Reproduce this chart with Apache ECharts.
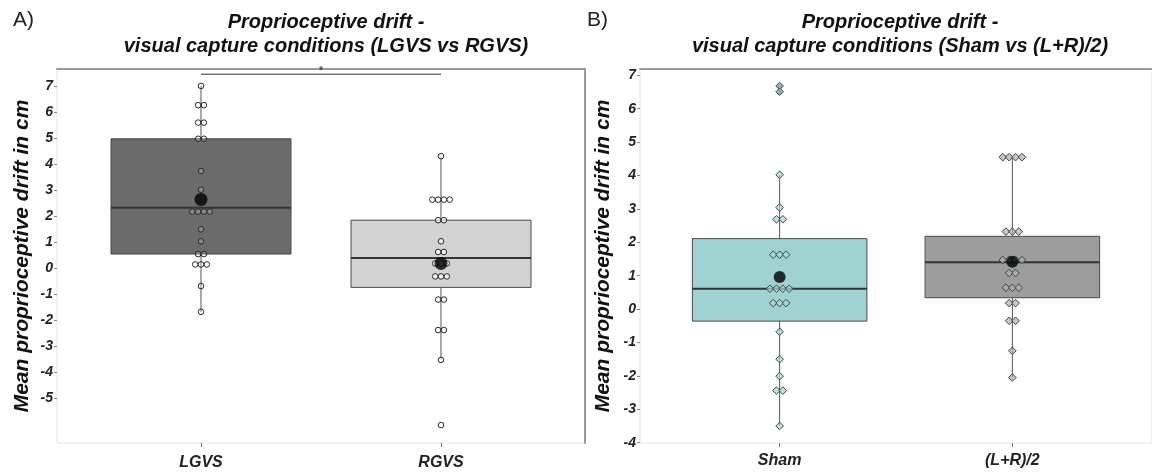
<!DOCTYPE html>
<html>
<head>
<meta charset="utf-8">
<script src="https://cdn.jsdelivr.net/npm/echarts@6/dist/echarts.min.js"></script>
<style>
html, body { margin: 0; padding: 0; background: #fff; }
#chart { width: 1152px; height: 473px; }
</style>
</head>
<body>
<div id="chart"></div>
<script>
// panel A: LGVS vs RGVS
const catsA = ['LGVS', 'RGVS'];
const dotsLGVS = [7.0, 6.26, 6.26, 5.59, 5.59, 4.97, 4.97, 3.73, 3.01, 2.17, 2.17, 2.17, 2.17,
  1.49, 1.03, 0.54, 0.54, 0.14, 0.14, 0.14, -0.69, -1.68];
const dotsRGVS = [4.3, 2.63, 2.63, 2.63, 2.63, 1.84, 1.84, 1.03, 0.62, 0.62, 0.18, 0.18, 0.18,
  -0.32, -0.32, -0.32, -1.21, -1.21, -2.38, -2.38, -3.53, -6.03];
// [min, q1, median, q3, max]
const boxLGVS = [-1.68, 0.54, 2.32, 4.97, 7.0];
const boxRGVS = [-3.53, -0.74, 0.39, 1.84, 4.3];
const meansA = [2.64, 0.18];
const signifY = 7.45;

// panel B: Sham vs (L+R)/2
const catsB = ['Sham', '(L+R)/2'];
const dotsSham = [6.68, 6.51, 4.02, 3.04, 2.69, 2.69, 1.63, 1.63, 1.63, 0.61, 0.61, 0.61, 0.61,
  0.18, 0.18, 0.18, -0.68, -1.5, -2.01, -2.44, -2.44, -3.5];
const dotsLR = [4.55, 4.55, 4.55, 4.55, 2.32, 2.32, 2.32, 1.47, 1.47, 1.47, 1.47, 1.08, 1.08,
  0.64, 0.64, 0.64, 0.18, 0.18, -0.35, -0.35, -1.25, -2.05];
const boxSham = [-3.5, -0.36, 0.61, 2.11, 4.02];
const boxLR = [-2.05, 0.34, 1.40, 2.18, 4.55];
const meansB = [0.96, 1.42];
const outliersSham = [6.68, 6.51];

const ticksA = [-5, -4, -3, -2, -1, 0, 1, 2, 3, 4, 5, 6, 7];
const ticksB = [-4, -3, -2, -1, 0, 1, 2, 3, 4, 5, 6, 7];

const FONT = '"Liberation Sans", Arial, sans-serif';

// spread equal values side by side like a dotplot
function stackDots(cat, vals) {
  const counts = {};
  vals.forEach(v => { counts[v] = (counts[v] || 0) + 1; });
  const seen = {};
  return vals.map(v => {
    seen[v] = seen[v] === undefined ? 0 : seen[v] + 1;
    return [cat, v, seen[v] - (counts[v] - 1) / 2];
  });
}

function boxRenderer(fills) {
  return function (params, api) {
    const c = api.value(0);
    const half = api.size([0.75, 0])[0] / 2;
    const lo = api.coord([c, api.value(1)]);
    const q1 = api.coord([c, api.value(2)]);
    const md = api.coord([c, api.value(3)]);
    const q3 = api.coord([c, api.value(4)]);
    const hi = api.coord([c, api.value(5)]);
    const wl = { stroke: '#555', lineWidth: 1 };
    return {
      type: 'group',
      children: [
        { type: 'line', shape: { x1: lo[0], y1: lo[1], x2: q1[0], y2: q1[1] }, style: wl },
        { type: 'line', shape: { x1: q3[0], y1: q3[1], x2: hi[0], y2: hi[1] }, style: wl },
        { type: 'rect', shape: { x: q3[0] - half, y: q3[1], width: half * 2, height: q1[1] - q3[1] },
          style: { fill: fills[c], stroke: '#4a4a4a', lineWidth: 1 } },
        { type: 'line', shape: { x1: md[0] - half, y1: md[1], x2: md[0] + half, y2: md[1] },
          style: { stroke: '#333', lineWidth: 2 } }
      ]
    };
  };
}

function dotRenderer(kind, r, step, fills, stroke) {
  return function (params, api) {
    const c = api.value(0);
    const p = api.coord([c, api.value(1)]);
    const x = p[0] + api.value(2) * step;
    const y = p[1];
    const style = { fill: fills[c], stroke: stroke, lineWidth: 1 };
    if (kind === 'circle') {
      return { type: 'circle', shape: { cx: x, cy: y, r: r }, style: style };
    }
    return { type: 'polygon', shape: { points: [[x, y - r], [x + r, y], [x, y + r], [x - r, y]] }, style: style };
  };
}

function boxData(boxes) {
  return boxes.map((b, i) => [i].concat(b));
}

const labelStyle = { fontFamily: FONT, fontWeight: 'bold', fontStyle: 'italic', color: '#222' };

function xAxes(grid, cats, margin) {
  return [
    {
      gridIndex: grid, type: 'value', min: -0.6, max: 1.6,
      axisLine: { show: false, onZero: false },
      splitLine: { show: false },
      axisTick: { customValues: [0, 1], length: 4, lineStyle: { color: '#777' } },
      axisLabel: Object.assign({ customValues: [0, 1], fontSize: 16, margin: margin,
        formatter: v => cats[Math.round(v)] }, labelStyle)
    },
    {
      gridIndex: grid, type: 'value', position: 'top', min: -0.6, max: 1.6,
      axisLine: { show: true, onZero: false, lineStyle: { color: '#999', width: 2 } },
      axisTick: { show: false }, axisLabel: { show: false }, splitLine: { show: false }
    }
  ];
}

function yAxes(grid, min, max, ticks, rightLine, gap) {
  return [
    {
      gridIndex: grid, type: 'value', min: min, max: max,
      name: 'Mean proprioceptive drift in cm', nameLocation: 'middle', nameGap: gap,
      nameTextStyle: Object.assign({ fontSize: 21 }, labelStyle, { color: '#111' }),
      axisLine: { show: false, onZero: false },
      splitLine: { show: false },
      axisTick: { customValues: ticks, length: 3, lineStyle: { color: '#888' } },
      axisLabel: Object.assign({ customValues: ticks, fontSize: 14, margin: 4 }, labelStyle)
    },
    {
      gridIndex: grid, type: 'value', position: 'right', min: min, max: max,
      axisLine: { show: rightLine, onZero: false, lineStyle: { color: '#999', width: 2 } },
      axisTick: { show: false }, axisLabel: { show: false }, splitLine: { show: false }
    }
  ];
}

const chart = echarts.init(document.getElementById('chart'));

const titleStyle = Object.assign({ fontSize: 20, lineHeight: 24 }, labelStyle, { color: '#111' });

const option = {
  backgroundColor: '#fff',
  animation: false,
  title: [
    { text: 'A)', left: 8, top: 5, textStyle: { fontFamily: FONT, fontSize: 21, fontWeight: 'normal', color: '#222' } },
    { text: 'B)', left: 582, top: 5, textStyle: { fontFamily: FONT, fontSize: 21, fontWeight: 'normal', color: '#222' } },
    { text: 'Proprioceptive drift -\nvisual capture conditions (LGVS vs RGVS)', left: 321, top: 5,
      textAlign: 'center', textStyle: titleStyle },
    { text: 'Proprioceptive drift -\nvisual capture conditions (Sham vs (L+R)/2)', left: 895, top: 5,
      textAlign: 'center', textStyle: titleStyle }
  ],
  grid: [
    { left: 57, width: 528, top: 69, height: 374, show: true, borderColor: '#e6e6e6', borderWidth: 1 },
    { left: 640, width: 521, top: 69, height: 374, show: true, borderColor: '#e6e6e6', borderWidth: 1 }
  ],
  xAxis: xAxes(0, catsA, 12).concat(xAxes(1, catsB, 10)),
  yAxis: yAxes(0, -6.72, 7.65, ticksA, true, 24).concat(yAxes(1, -4.01, 7.19, ticksB, false, 26)),
  series: [
    {
      type: 'custom', xAxisIndex: 0, yAxisIndex: 0, z: 2,
      renderItem: boxRenderer(['#6b6b6b', '#d3d3d3']),
      data: boxData([boxLGVS, boxRGVS])
    },
    {
      type: 'custom', xAxisIndex: 2, yAxisIndex: 2, z: 2,
      renderItem: boxRenderer(['#a0d2d2', '#9d9d9d']),
      data: boxData([boxSham, boxLR])
    },
    {
      type: 'scatter', xAxisIndex: 2, yAxisIndex: 2, z: 3,
      symbol: 'circle', symbolSize: 5, itemStyle: { color: '#222' },
      data: outliersSham.map(v => [0, v])
    },
    {
      type: 'custom', xAxisIndex: 0, yAxisIndex: 0, z: 4,
      renderItem: dotRenderer('circle', 2.8, 5.8, ['rgba(255,255,255,0.2)', 'rgba(255,255,255,0.6)'], '#2a2a2a'),
      data: stackDots(0, dotsLGVS).concat(stackDots(1, dotsRGVS))
    },
    {
      type: 'custom', xAxisIndex: 2, yAxisIndex: 2, z: 4,
      renderItem: dotRenderer('diamond', 3.8, 6.4, ['rgba(170,215,212,0.7)', 'rgba(175,175,175,0.7)'], '#38484a'),
      data: stackDots(0, dotsSham).concat(stackDots(1, dotsLR))
    },
    {
      type: 'scatter', xAxisIndex: 0, yAxisIndex: 0, z: 5,
      symbol: 'circle', symbolSize: 13, itemStyle: { color: '#000' },
      data: meansA.map((v, i) => [i, v])
    },
    {
      type: 'scatter', xAxisIndex: 2, yAxisIndex: 2, z: 5,
      symbol: 'circle', symbolSize: 12, itemStyle: { color: '#000' },
      data: meansB.map((v, i) => [i, v])
    },
    {
      type: 'line', xAxisIndex: 0, yAxisIndex: 0, z: 5,
      symbol: 'none', lineStyle: { color: '#333', width: 1 },
      data: [[0, signifY], [1, signifY]]
    },
    {
      type: 'scatter', xAxisIndex: 0, yAxisIndex: 0, z: 5,
      symbolSize: 1, itemStyle: { color: 'transparent' },
      label: { show: true, position: 'top', distance: -3, formatter: '*', fontSize: 10, fontWeight: 'bold', color: '#222' },
      data: [[0.5, signifY]]
    }
  ]
};

chart.setOption(option);
</script>
</body>
</html>
